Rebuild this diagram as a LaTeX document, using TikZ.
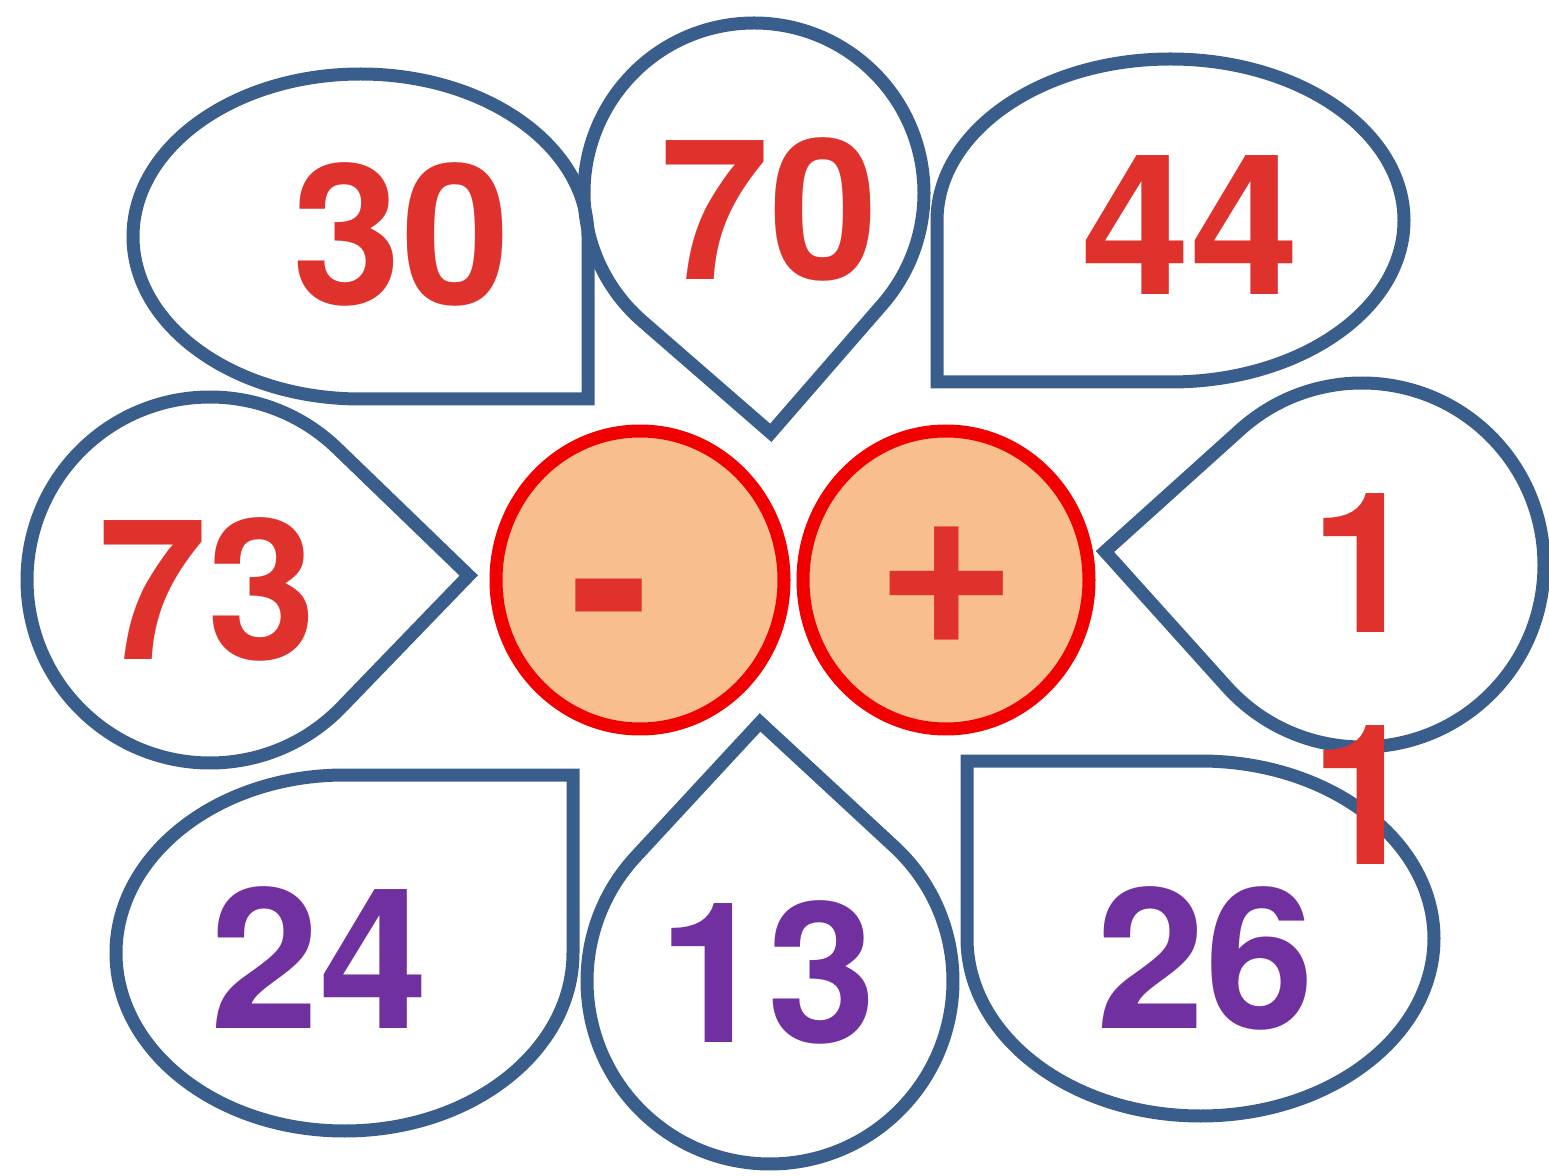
\documentclass[tikz,border=0pt]{standalone}
\usepackage{fontspec}
\setmainfont{TeX Gyre Heros}
\usetikzlibrary{calc,shapes.geometric}
\definecolor{petalblue}{RGB}{58,94,140}
\definecolor{numred}{RGB}{224,50,45}
\definecolor{numpurple}{RGB}{112,48,160}
\definecolor{peach}{RGB}{248,190,142}
\definecolor{ringred}{RGB}{240,0,0}
\tikzset{
  petal/.style={draw=petalblue, line width=6.5pt, line join=miter},
  hub/.style={draw=ringred, line width=6.5pt, fill=peach, ellipse, inner sep=0pt},
  num/.style={font=\fontsize{98}{116}\selectfont\bfseries, inner sep=0pt, anchor=base},
  rednum/.style={num, text=numred},
  purplenum/.style={num, text=numpurple},
  sign/.style={font=\fontsize{122}{122}\selectfont\bfseries, inner sep=0pt, anchor=base, text=numred},
}
% teardrop: centre x, centre y, radius, direction of the point
\newcommand\teardrop[4]{%
  \draw[petal] ($(#1,#2)+({#4}:{#3*1.41421})$) -- ($(#1,#2)+({#4+45}:#3)$)
    arc[start angle={#4+45}, delta angle=270, radius=#3] -- cycle;
}
\begin{document}
\begin{tikzpicture}[x=0.5pt, y=0.5pt, yscale=-1]
  \useasboundingbox (0,0) rectangle (1549,1176);
  % corner petals
  \draw[petal] (360.5,399) -- (588,399) -- (588,236.5)
    arc[start angle=0, end angle=-270, x radius=227.5, y radius=162.5] -- cycle;
  \draw[petal] (937,220.5) -- (937,382) -- (1170.5,382)
    arc[start angle=90, end angle=-180, x radius=233.5, y radius=161.5] -- cycle;
  \draw[petal] (573,953) -- (573,775) -- (344.5,775)
    arc[start angle=-90, end angle=-360, x radius=228.5, y radius=178] -- cycle;
  \draw[petal] (1200.5,761) -- (967,761) -- (967,938.5)
    arc[start angle=180, end angle=-90, x radius=233.5, y radius=177.5] -- cycle;
  % pointed petals
  \teardrop{754}{193}{170}{86}
  \teardrop{210}{580}{183}{-1}
  \teardrop{1362}{565}{182}{183}
  \teardrop{770}{981}{183}{-92.2}
  % hubs
  \node[hub, minimum width=144pt, minimum height=149pt] (minushub) at (640,580) {};
  \node[hub, minimum width=143pt, minimum height=149pt] (plushub) at (946,580) {};
  \node[sign] (minus) at (610,663) {-};
  \node[sign] (plus) at (947,645) {+};
  % numbers
  \node[rednum] (n30) at (401,305) {30};
  \node[rednum] (n70) at (769,280) {70};
  \node[rednum] (n44) at (1190,295) {44};
  \node[rednum] (n73) at (207,660) {73};
  \node[rednum, anchor=center, align=center] (n11) at (1365,679) {1\\1};
  \node[purplenum] (n24) at (319,1028) {24};
  \node[purplenum] (n13) at (767,1042) {13};
  \node[purplenum] (n26) at (1205,1028) {26};
\end{tikzpicture}
\end{document}
